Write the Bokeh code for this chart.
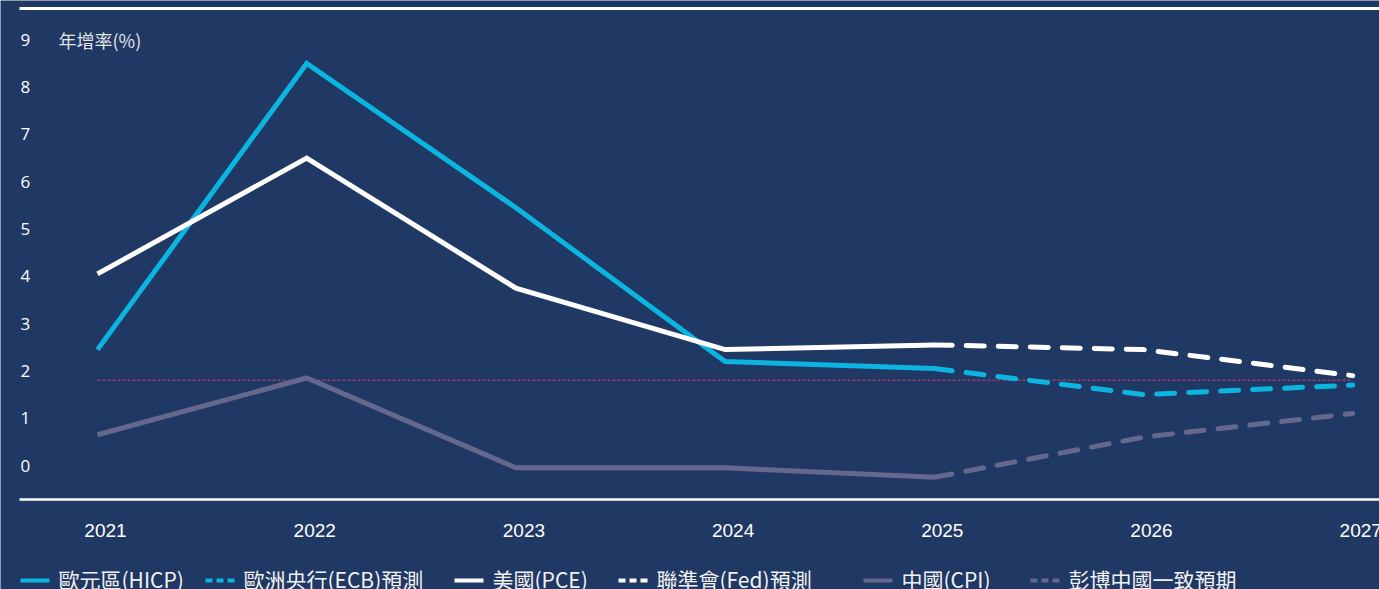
from bokeh.plotting import figure
from bokeh.models import Range1d, ColumnDataSource
from bokeh.core.properties import value
from bokeh.embed import file_html
from bokeh.resources import INLINE

# ---- data -------------------------------------------------------------
years = [2021, 2022, 2023, 2024, 2025]
proj_years = [2025, 2026, 2027]

euro_hicp = [2.45, 8.5, 5.45, 2.2, 2.05]
ecb_proj = [2.05, 1.5, 1.7]
us_pce = [4.05, 6.5, 3.75, 2.45, 2.55]
fed_proj = [2.55, 2.45, 1.9]
china_cpi = [0.65, 1.85, -0.05, -0.05, -0.25]
bbg_china_proj = [-0.25, 0.6, 1.1]
ref_level = 1.8

y_ticks = [0, 1, 2, 3, 4, 5, 6, 7, 8, 9]
x_ticks = [2021, 2022, 2023, 2024, 2025, 2026, 2027]
y_title = "年增率(%)"

legend_labels = ["歐元區(HICP)", "歐洲央行(ECB)預測", "美國(PCE)",
                 "聯準會(Fed)預測", "中國(CPI)", "彭博中國一致預期"]

# ---- styling / layout -------------------------------------------------
W, H = 1379, 589
BG = "#1F3864"
CYAN = "#0BB5E0"
WHITE = "#FFFFFF"
GREY = "#65688C"
RED = "#A03A68"

X0_PX, PX_PER_YEAR = 97.0, 209.2      # pixel of first year, pixels per year
Y0_PX, PX_PER_UNIT = 465.0, 47.3      # pixel of value 0, pixels per unit


def X(px):
    return x_ticks[0] + (px - X0_PX) / PX_PER_YEAR


def Y(py):
    return (Y0_PX - py) / PX_PER_UNIT


p = figure(width=W, height=H, output_backend="svg", toolbar_location=None,
           x_range=Range1d(X(0), X(W)), y_range=Range1d(Y(H), Y(0)),
           x_axis_type=None, y_axis_type=None,
           min_border=0, min_border_left=0, min_border_right=0,
           min_border_top=0, min_border_bottom=0,
           background_fill_color=BG, border_fill_color=BG,
           outline_line_color=None)
p.grid.visible = False

# frame rules top and bottom
p.segment(x0=[X(19), X(19)], x1=[X(W), X(W)], y0=[Y(8), Y(499)], y1=[Y(8), Y(499)],
          line_color=WHITE, line_width=[3, 2.5])

# reference level
p.line(x=[x_ticks[0], x_ticks[-1]], y=[ref_level, ref_level],
       line_color=RED, line_width=1.5, line_dash="3 2")

DASH = "18 14"
LW = 5

# China
p.line(years, china_cpi, line_color=GREY, line_width=LW, line_join="miter")
p.line(proj_years, bbg_china_proj, line_color=GREY, line_width=LW,
       line_dash=DASH, line_cap="round")
# Euro area
p.line(years, euro_hicp, line_color=CYAN, line_width=LW, line_join="miter")
p.line(proj_years, ecb_proj, line_color=CYAN, line_width=LW,
       line_dash=DASH, line_cap="round")
# US
p.line(years, us_pce, line_color=WHITE, line_width=LW, line_join="miter")
p.line(proj_years, fed_proj, line_color=WHITE, line_width=LW,
       line_dash=DASH, line_cap="round")

# y tick labels
p.text(x=[X(20)] * len(y_ticks), y=y_ticks, text=[str(t) for t in y_ticks],
       text_align="left", text_baseline="middle",
       text_font=value("Open Sans"), text_font_size="17px", text_color=WHITE)

# y title
p.text(x=[X(58)], y=[y_ticks[-1]], text=[y_title],
       text_align="left", text_baseline="middle",
       text_font=value("Noto Sans CJK TC"), text_font_size="18px",
       text_color="#E4E4E4")

# x tick labels
p.text(x=x_ticks, y=[Y(530)] * len(x_ticks), text=[str(t) for t in x_ticks],
       x_offset=8, text_align="center", text_baseline="middle",
       text_font=value("Liberation Sans"), text_font_size="19px", text_color=WHITE)

# legend
sw_left = [20, 205, 454, 618, 863, 1030]
sw_colors = [CYAN, CYAN, WHITE, WHITE, GREY, GREY]
sw_dash = ["solid", "7 4", "solid", "7 4", "solid", "7 4"]
ly = Y(580)
for lbl, x0, c, d in zip(legend_labels, sw_left, sw_colors, sw_dash):
    p.line(x=[X(x0), X(x0 + 29)], y=[ly, ly], line_color=c, line_width=4, line_dash=d)
    p.text(x=[X(x0 + 38)], y=[Y(578)], text=[lbl], text_align="left",
           text_baseline="middle",
           text_font=value("Liberation Sans Narrow, Noto Sans CJK TC"),
           text_font_size="21px", text_color="#F2F2F2")

open("out.html", "w").write(file_html(p, INLINE))
